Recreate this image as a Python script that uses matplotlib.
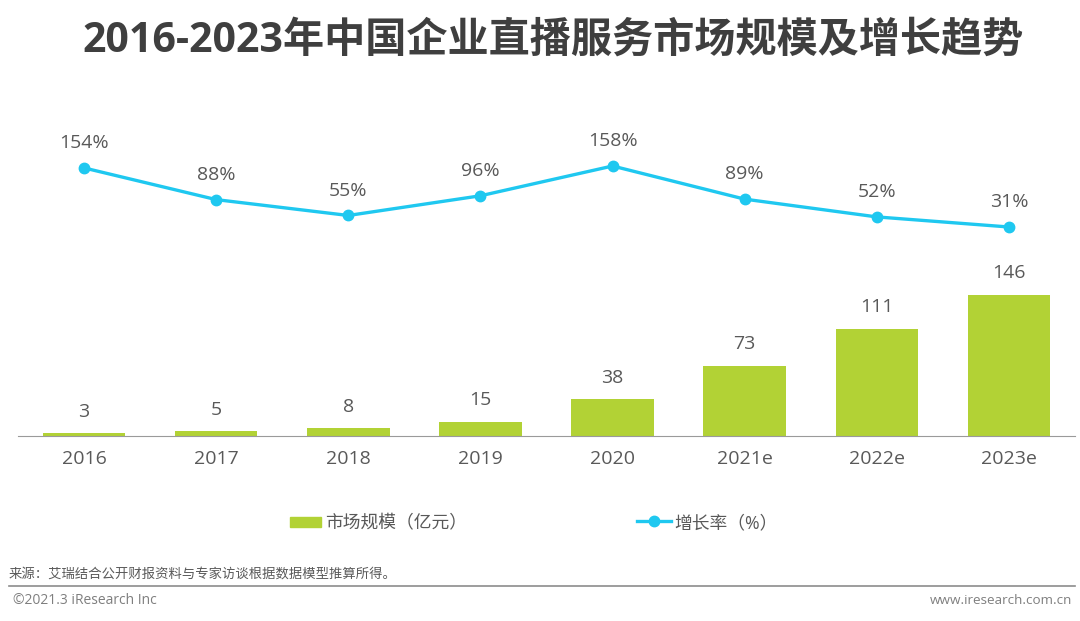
import numpy as np
import matplotlib
matplotlib.use("Agg")
import matplotlib.pyplot as plt

plt.rcParams['font.family'] = ['Open Sans', 'Noto Sans CJK SC', 'DejaVu Sans']

years = ["2016", "2017", "2018", "2019", "2020", "2021e", "2022e", "2023e"]
market_size = [3, 5, 8, 15, 38, 73, 111, 146]
growth = [154, 88, 55, 96, 158, 89, 52, 31]

W, H = 1080, 621
GREEN = "#B2D235"
BLUE = "#1FC8F0"
GREY = "#595959"
fig = plt.figure(figsize=(W / 100, H / 100), dpi=100)

# bar axes: baseline at y=436, 146 top at y=295
ax = fig.add_axes([18 / W, 1 - 436 / H, (1075 - 18) / W, 300 / H])
x = np.arange(len(years))
ax.bar(x, market_size, width=0.625, color=GREEN, zorder=2)
ax.set_xlim(-0.5, 7.5)
ax.set_ylim(0, 146 * 300 / 141)
for i, v in enumerate(market_size):
    ax.annotate(str(v), (i, v), xytext=(0, 9), textcoords="offset points", ha="center", va="bottom", fontsize=14, color=GREY)
ax.set_xticks(x)
ax.set_xticklabels(years, fontsize=14, color=GREY)
ax.tick_params(axis="x", length=0, pad=10)
ax.set_yticks([])
for s in ["top", "left", "right"]:
    ax.spines[s].set_visible(False)
ax.spines["bottom"].set_color("#9a9a9a")
ax.patch.set_alpha(0)

# line axes: 158 at y=166, 31 at y=227
lax = fig.add_axes([18 / W, 1 - 300 / H, (1075 - 18) / W, 200 / H])
lax.plot(x, growth, color=BLUE, lw=2.4, marker="o", ms=7.5, zorder=3)
lax.set_xlim(-0.5, 7.5)
lax.set_ylim(31 - (300 - 227) * 127 / 61, 158 + (166 - 100) * 127 / 61)
lax.axis("off")
for i, v in enumerate(growth):
    lax.annotate("%d%%" % v, (i, v), xytext=(0, 11.5), textcoords="offset points", ha="center", va="bottom", fontsize=14, color=GREY)

fig.text(553.5 / W, 1 - 41 / H, "2016-2023年中国企业直播服务市场规模及增长趋势", ha="center", va="center", fontsize=29.65, fontweight="bold", color="#3F3F3F")

# legend
fig.patches.append(plt.Rectangle((290 / W, 1 - 527 / H), 31 / W, 10 / H, transform=fig.transFigure, color=GREEN))
fig.text(325 / W, 1 - 523 / H, "市场规模（亿元）", ha="left", va="center", fontsize=12.8, color=GREY)
fig.add_artist(plt.Line2D([637 / W, 671 / W], [1 - 521 / H] * 2, color=BLUE, lw=2.4, transform=fig.transFigure))
fig.add_artist(plt.Line2D([654 / W], [1 - 521 / H], color=BLUE, marker="o", ms=7.5, transform=fig.transFigure))
fig.text(674 / W, 1 - 523 / H, "增长率（%）", ha="left", va="center", fontsize=12.8, color=GREY)

# footer
fig.text(9 / W, 1 - 574 / H, "来源：艾瑞结合公开财报资料与专家访谈根据数据模型推算所得。", ha="left", va="center", fontsize=9.6, color=GREY)
fig.add_artist(plt.Line2D([9 / W, 1075 / W], [1 - 586 / H] * 2, color="#8c8c8c", lw=1.2, transform=fig.transFigure))
fig.text(13 / W, 1 - 601 / H, "©2021.3 iResearch Inc", ha="left", va="center", fontsize=10, color="#7f7f7f")
fig.text(1072 / W, 1 - 601 / H, "www.iresearch.com.cn", ha="right", va="center", fontsize=9.7, color="#7f7f7f")

fig.savefig("out.png", dpi=100)
